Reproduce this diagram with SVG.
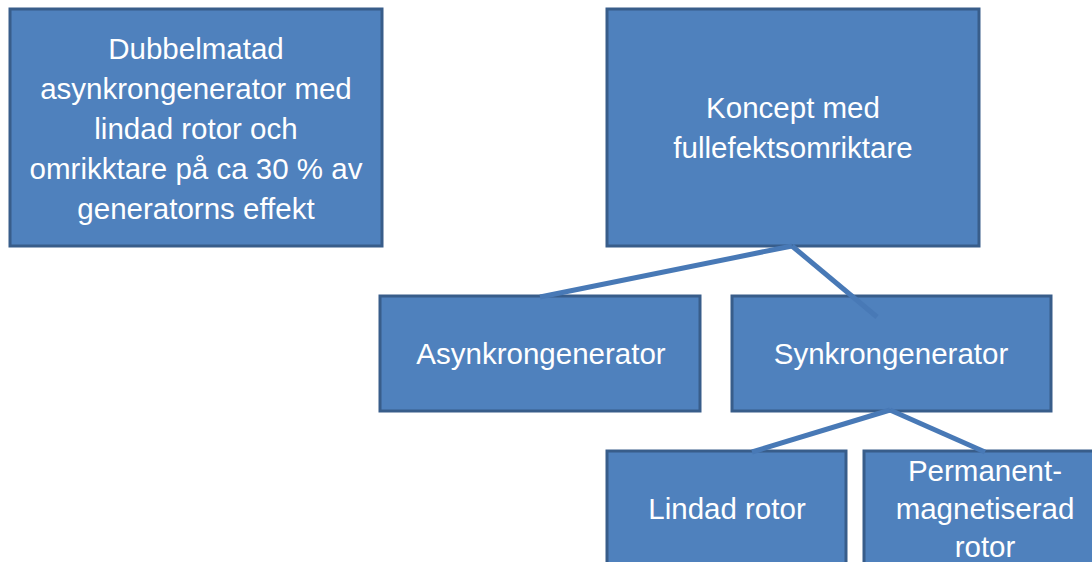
<svg xmlns="http://www.w3.org/2000/svg" width="1092" height="562" viewBox="0 0 1092 562">
<style>
.box{fill:#4F81BD;stroke:#385D8A;stroke-width:3}
.t{font-family:"Liberation Sans",Arial,sans-serif;font-size:29.5px;fill:#FFFFFF;text-anchor:middle}
.c{stroke:#4879B6;stroke-width:5;fill:none}
</style>
<rect width="1092" height="562" fill="#FFFFFF"/>
<g id="n1">
<rect class="box" x="10" y="9" width="372" height="237"/>
<text class="t" x="196" y="59">Dubbelmatad</text>
<text class="t" x="196" y="99">asynkrongenerator med</text>
<text class="t" x="196" y="139">lindad rotor och</text>
<text class="t" x="196" y="179">omrikktare på ca 30 % av</text>
<text class="t" x="196" y="219">generatorns effekt</text>
</g>
<g id="n2">
<rect class="box" x="607" y="9" width="372" height="237"/>
<text class="t" x="793" y="118">Koncept med</text>
<text class="t" x="793" y="158">fullefektsomriktare</text>
</g>
<g id="n3">
<rect class="box" x="380" y="296" width="320" height="115"/>
<text class="t" x="541" y="364">Asynkrongenerator</text>
</g>
<g id="n4">
<rect class="box" x="732" y="296" width="319" height="115"/>
<text class="t" x="891" y="364">Synkrongenerator</text>
</g>
<g id="n5">
<rect class="box" x="607" y="451" width="239" height="130"/>
<text class="t" x="727" y="519">Lindad rotor</text>
</g>
<g id="n6">
<rect class="box" x="864" y="451" width="250" height="130"/>
<text class="t" x="985" y="481">Permanent-</text>
<text class="t" x="985" y="519">magnetiserad</text>
<text class="t" x="985" y="557">rotor</text>
</g>
<g id="connectors">
<line class="c" x1="792" y1="246" x2="540" y2="297"/>
<line class="c" x1="792" y1="246" x2="877" y2="317"/>
<line class="c" x1="890" y1="410" x2="752" y2="452"/>
<line class="c" x1="890" y1="410" x2="985" y2="452"/>
</g>
</svg>
